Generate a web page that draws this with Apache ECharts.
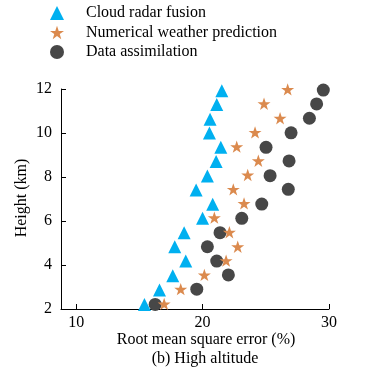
<!DOCTYPE html>
<html>
<head>
<meta charset="utf-8">
<script src="https://cdn.jsdelivr.net/npm/echarts@6/dist/echarts.min.js"></script>
<style>html,body{margin:0;padding:0;background:#fff}#c{width:377px;height:374px}</style>
</head>
<body>
<div id="c"></div>
<script>
const seriesNames = ['Cloud radar fusion', 'Numerical weather prediction', 'Data assimilation'];
const xTickValues = [10, 20, 30];
const yTickValues = [2, 4, 6, 8, 10, 12];
const xAxisTitle = 'Root mean square error (%)';
const subTitle = '(b) High altitude';
const yAxisTitle = 'Height (km)';

const cloudRadar = [
  [15.4, 2.21], [16.59, 2.86], [17.64, 3.51], [18.67, 4.18], [17.8, 4.83], [18.54, 5.47],
  [20.0, 6.12], [20.8, 6.76], [19.49, 7.41], [20.38, 8.05], [21.07, 8.71], [21.44, 9.35],
  [20.54, 10.0], [20.59, 10.62], [21.12, 11.3], [21.52, 11.92]
];
const numericalWeather = [
  [16.96, 2.23], [18.27, 2.9], [20.14, 3.55], [21.86, 4.2], [22.78, 4.83], [22.12, 5.49],
  [20.93, 6.15], [23.28, 6.8], [22.43, 7.44], [23.57, 8.09], [24.41, 8.74], [22.7, 9.38],
  [24.15, 10.03], [26.13, 10.67], [24.86, 11.33], [26.73, 11.98]
];
const dataAssimilation = [
  [16.25, 2.21], [19.54, 2.9], [22.04, 3.55], [21.12, 4.18], [20.38, 4.83], [21.38, 5.47],
  [23.1, 6.12], [24.68, 6.77], [26.78, 7.44], [25.34, 8.06], [26.84, 8.73], [25.02, 9.35],
  [27.0, 10.01], [28.45, 10.67], [29.02, 11.32], [29.55, 11.95]
];

const FONT = '"Liberation Serif", "Times New Roman", serif';
const starPath = 'path://M50,0 L61.8,35.1 L98.1,35.1 L68.8,56.8 L79.4,91.3 L50,70 L20.6,91.3 L31.2,56.8 L1.9,35.1 L38.2,35.1 Z';

const chart = echarts.init(document.getElementById('c'));
chart.setOption({
  animation: false,
  backgroundColor: '#fff',
  textStyle: { fontFamily: FONT, color: '#000' },
  legend: {
    orient: 'vertical',
    left: 45,
    top: 0,
    itemWidth: 14,
    itemHeight: 14,
    itemGap: 3.5,
    textStyle: { fontFamily: FONT, fontSize: 16, color: '#000', padding: [0, 0, 0, 17] },
    data: [
      { name: seriesNames[0], icon: 'triangle' },
      { name: seriesNames[1], icon: starPath },
      { name: seriesNames[2], icon: 'circle' }
    ]
  },
  grid: { left: 61, right: 48, top: 89, bottom: 65, containLabel: false },
  xAxis: {
    type: 'value',
    min: 8.8,
    max: 30,
    splitLine: { show: false },
    axisLine: { show: true, lineStyle: { color: '#000', width: 1 } },
    axisTick: { show: true, inside: true, length: 5, lineStyle: { color: '#000' }, customValues: xTickValues },
    axisLabel: { show: true, margin: 6, fontSize: 16, fontFamily: FONT, color: '#000', customValues: xTickValues }
  },
  yAxis: {
    type: 'value',
    min: 2,
    max: 12,
    interval: 2,
    splitLine: { show: false },
    axisLine: { show: true, lineStyle: { color: '#000', width: 1 } },
    axisTick: { show: true, inside: true, length: 5, lineStyle: { color: '#000' } },
    axisLabel: { show: true, margin: 9, fontSize: 16, fontFamily: FONT, color: '#000', customValues: yTickValues }
  },
  graphic: [
    { type: 'text', x: 206, y: 340, style: { text: xAxisTitle, font: '16px ' + FONT, fill: '#000', align: 'center', verticalAlign: 'middle' } },
    { type: 'text', x: 205, y: 359, style: { text: subTitle, font: '16px ' + FONT, fill: '#000', align: 'center', verticalAlign: 'middle' } },
    { type: 'text', x: 22, y: 198, rotation: Math.PI / 2, style: { text: yAxisTitle, font: '16px ' + FONT, fill: '#000', align: 'center', verticalAlign: 'middle' } }
  ],
  series: [
    { name: seriesNames[0], type: 'scatter', symbol: 'triangle', symbolSize: [13, 13], itemStyle: { color: '#00B0F0', opacity: 1 }, data: cloudRadar, z: 3 },
    { name: seriesNames[1], type: 'scatter', symbol: starPath, symbolSize: 13, symbolKeepAspect: true, itemStyle: { color: '#DB8A4E', opacity: 1 }, data: numericalWeather, z: 4 },
    { name: seriesNames[2], type: 'scatter', symbol: 'circle', symbolSize: 13, itemStyle: { color: '#474747', opacity: 1 }, data: dataAssimilation, z: 2 }
  ]
});
</script>
</body>
</html>
